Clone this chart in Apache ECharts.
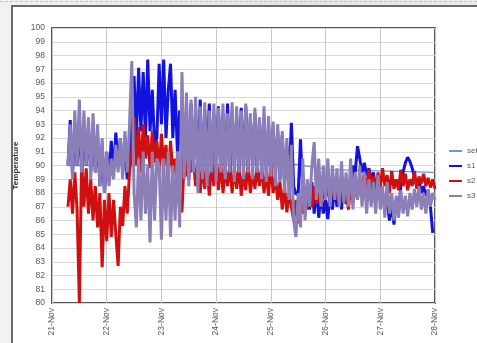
<!DOCTYPE html>
<html><head><meta charset="utf-8">
<script src="https://cdn.jsdelivr.net/npm/echarts@6/dist/echarts.min.js"></script>
<style>
html,body{margin:0;padding:0;width:477px;height:343px;overflow:hidden;background:linear-gradient(90deg,#f2f2f2,#e4e4e4 60%,#ececec);font-family:"Liberation Sans",Arial,sans-serif;}
#topline{position:absolute;left:0;top:1px;width:477px;border-top:1px dashed #a9c6e6;}
#panel{position:absolute;left:11px;top:5px;width:500px;height:360px;background:#fff;border-left:2px solid #6a6a6a;border-top:2px solid #6a6a6a;box-sizing:border-box;}
#chart{position:absolute;left:0;top:0;width:477px;height:343px;}
</style></head>
<body>
<div id="topline"></div>
<div id="panel"></div>
<div id="chart"></div>
<script>
const dayLabels = ['21-Nov','22-Nov','23-Nov','24-Nov','25-Nov','26-Nov','27-Nov','28-Nov'];
const startHour = 7; // hourly readings from 21-Nov 07:00
const setHours = [7, 106, 122, 168];
const setValues = [90, 90.1, 89.7, 89.5];
const s1 = [
 90,93.3,89.5,92.5,90,93,89.5,93,90,92.5,89.5,92.8,89.5,92,88.5,91.5,88,91,89,91.8,89.5,92.4,90,92,89.5,91.5,89,90,
 93,96.5,92,97.1,92.5,96.8,92,97.7,92.5,95.5,91.5,92,97.4,93,97.7,92,95.5,97.4,92,95.5,91,94,89.8,
 91.5,94,89,94.5,90,94,89.5,94.8,89,94,90,94.5,89,93.8,89.5,94.3,90,93.8,89.5,94.5,89,94,90,93.5,89.5,94.2,89.8,
 94.3,89.5,93.5,90,93.8,89.5,93.3,90,93.5,89.5,93,89,92.8,89.5,92.5,89,92.2,88.8,91.5,89,93.1,
 88.5,87.9,88,91.9,88,87.2,88.5,86.8,88.8,86.5,88.5,86.2,88,86.5,87.5,86.1,88.2,86.8,88.5,87,88.8,86.8,89,87.2,88.5,87.5,90,89.5,91.4,
 90.5,89.5,90.2,89.3,89.8,89,89.5,88.2,88.8,87.5,88,86.8,87.5,86,87.2,85.7,87.5,86.5,88.5,89.5,90.2,90.6,90.3,89.8,89.2,88.5,89,88,88.5,87.8,88.2,87,85.1
];
const s2 = [
 87,89,86.5,89.5,86.8,80,90.4,87,89.8,86.5,89,86,88.5,85.5,88,82.6,87.5,84.5,88,84.8,87.5,85,82.7,87,85.6,88.5,86.5,89.5,
 91,93.5,90,92.8,89.5,93,90.5,92.2,89.8,92.5,90.2,91.8,89.5,92.3,90,91.5,89,91.8,89.5,90.5,88,87,86.6,
 90.5,89.2,91.2,89.5,90.5,88.5,90.3,88,90,88.3,89.8,87.8,90.2,88.5,90.8,88.2,90.3,88,89.8,88.5,90,88,89.8,88.3,90,87.8,89.6,
 88.2,90.2,88,89.5,88.3,89.8,88.5,90,88,89.5,87.8,90.3,88,89.2,87.5,88.8,86.8,88.5,86.6,88,87,
 86,87.5,85.8,87.2,86.5,88,86.8,88.2,87,88.5,87.2,88,87,88.3,87.5,88.7,87.3,89,87.5,88.8,87.2,89.2,87.5,88.7,86.8,88.5,87.2,88.8,87.5,89,
 88.2,89.5,88,89.7,88.3,89.2,88,89.5,88.4,89.8,88.5,89.3,88,89.6,88.3,89,88.2,89.7,88.5,89.4,88.2,89,88.5,89.6,88.3,89.2,88.7,89.4,88.5,89.1,88.4,89,88.3
];
const s3 = [
 90,93,89,94,90,94.8,89.5,94,90,93.5,89,93.8,89.5,93,88.5,92,88,91,88.5,90.5,89,91.5,89.5,92,89,92.5,89.5,93,
 97.6,88,85.5,90.5,86,91,86.5,90,84.4,91,86,90.5,90,84.6,90.5,86,91,84.8,90,86,91,85.5,96.8,
 89,95.3,88.5,94.8,89.5,95,88,94.3,89,94.6,88.5,94,89.5,94.5,88.8,94.2,89.5,94.5,89,93.8,89.5,94.6,88.8,94.3,89.5,94,89,
 94.5,89.5,93.8,89,94.2,89.5,93.5,89,94.3,88.8,93.6,89.2,93.2,88.5,93,88.8,92.5,88,92,87.5,91.5,
 86,84.8,88,85.5,90.5,86,89,87,90,91.7,87.5,90.5,87,90,87.5,90.5,87,90,87.5,89.8,87,90.3,87.3,89.5,87,90.5,86.8,89.5,87.5,90,
 87,89.5,86.5,89,87,88.8,86.5,89.3,86.8,88.5,86.2,88.8,86.5,88,86,87.8,86.2,88.2,86.5,87.8,86.3,88,86.8,88.3,87,88.5,86.8,88,86.5,88.3,87,88,87.5
];
const toPairs = arr => arr.map((v, i) => [startHour + i, v]);
const chart = echarts.init(document.getElementById('chart'), null, {renderer: 'canvas'});
const lineSeries = (name, data, color, w) => ({
  name, type: 'line', data, showSymbol: false, symbol: 'none', animation: false,
  lineStyle: {color, width: w, join: 'bevel'}, itemStyle: {color}
});
chart.setOption({
  animation: false,
  backgroundColor: 'transparent',
  grid: {left: 52, right: 42, top: 28, bottom: 40, show: true, borderColor: '#555', borderWidth: 2, backgroundColor: '#fff'},
  legend: {
    orient: 'vertical', left: 449, top: 147, padding: 0, itemWidth: 13, itemHeight: 2, itemGap: 7,
    icon: 'rect', data: ['set','s1','s2','s3'],
    textStyle: {fontSize: 8, color: '#595959'}
  },
  xAxis: {
    type: 'value', min: 0, max: 168, interval: 24,
    axisLine: {show: false}, axisTick: {show: false},
    splitLine: {show: true, lineStyle: {color: '#c8c8c8', width: 1}},
    axisLabel: {rotate: 90, fontSize: 8.5, color: '#595959', margin: 5,
      formatter: v => dayLabels[Math.round(v / 24)] || ''}
  },
  yAxis: {
    type: 'value', min: 80, max: 100, interval: 1,
    name: 'Temperature', nameLocation: 'middle', nameGap: 27, nameRotate: 90,
    nameTextStyle: {fontSize: 8, color: '#333', fontWeight: 'bold'},
    axisLine: {show: false}, axisTick: {show: false},
    splitLine: {show: true, lineStyle: {color: '#d9d9d9', width: 1}},
    axisLabel: {fontSize: 8.5, color: '#595959', margin: 7}
  },
  series: [
    lineSeries('set', setHours.map((h, i) => [h, setValues[i]]), '#6a9ad0', 1.5),
    lineSeries('s1', toPairs(s1), '#1212e0', 3),
    lineSeries('s2', toPairs(s2), '#d01010', 3),
    lineSeries('s3', toPairs(s3), '#8c7fb8', 3)
  ]
});
</script>
</body></html>
